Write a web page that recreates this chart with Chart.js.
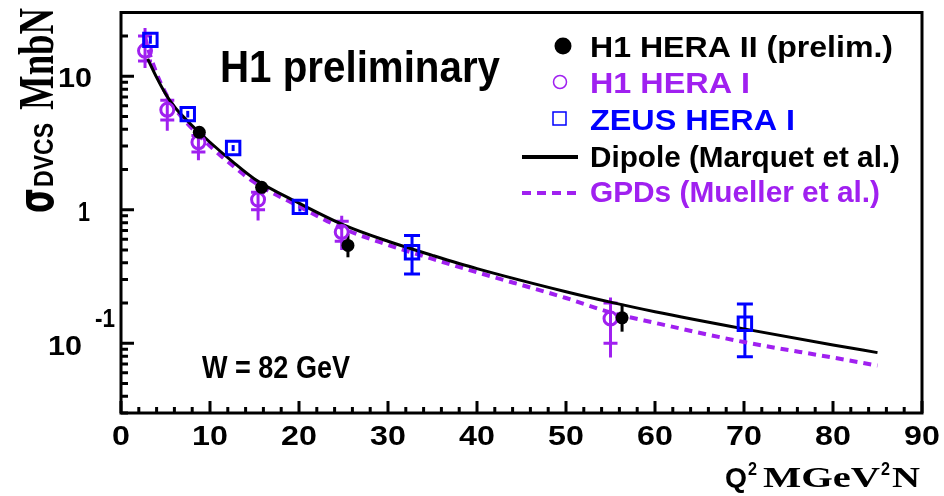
<!DOCTYPE html>
<html>
<head>
<meta charset="utf-8">
<script src="https://cdn.jsdelivr.net/npm/chart.js@4.4.1/dist/chart.umd.min.js"></script>
<style>
  html, body { margin: 0; padding: 0; background: #fff; }
  #wrap { width: 944px; height: 496px; }
</style>
</head>
<body>
<div id="wrap"><canvas id="dvcs" width="944" height="496"></canvas></div>
<script>
// H1 HERA II (prelim.)
const h2Q2 = [8.8, 15.8, 25.5, 56.3];
const h2Sig = [3.8, 1.47, 0.54, 0.155];
const h2Lo = [3.5, 1.36, 0.44, 0.122];
const h2Hi = [4.1, 1.58, 0.66, 0.197];

// H1 HERA I
const h1Q2 = [2.7, 5.2, 8.7, 15.4, 24.8, 55.0];
const h1Sig = [15.5, 5.6, 3.2, 1.19, 0.68, 0.153];
const h1StatLo = [13, 4.7, 2.7, 1.0, 0.58, 0.10];
const h1StatHi = [20, 6.6, 3.6, 1.35, 0.82, 0.20];
const h1TotLo = [11.5, 3.9, 2.35, 0.83, 0.5, 0.078];
const h1TotHi = [23, 7.2, 4.0, 1.45, 0.9, 0.22];

// ZEUS HERA I
const zQ2 = [3.3, 7.5, 12.6, 20.1, 32.7, 70.1];
const zSig = [18.7, 5.2, 2.9, 1.05, 0.48, 0.14];
const zLo = [17.5, 4.9, 2.75, 0.97, 0.33, 0.079];
const zHi = [20.0, 5.5, 3.05, 1.13, 0.64, 0.197];

// Dipole (Marquet et al.)
const dipQ2 = [3, 4, 5, 6, 7.5, 10, 12.5, 15, 20, 25, 30, 35, 40, 50, 55, 60, 70, 80, 85];
const dipSig = [13.5, 9.8, 7.4, 5.9, 4.6, 3.2, 2.3, 1.7, 1.12, 0.77, 0.58, 0.455, 0.362, 0.243, 0.203, 0.172, 0.128, 0.097, 0.085];

// GPDs (Mueller et al.)
const gpdQ2 = [2.7, 3, 4, 5, 6, 7.5, 10, 12.5, 15, 20, 25, 30, 35, 40, 50, 55, 60, 70, 80, 85];
const gpdSig = [20, 16.5, 10.5, 7.5, 5.8, 4.4, 3.0, 2.15, 1.6, 1.06, 0.72, 0.545, 0.428, 0.34, 0.218, 0.17, 0.142, 0.102, 0.078, 0.068];

const xTicks = [0, 10, 20, 30, 40, 50, 60, 70, 80, 90];
const yMajor = [0.1, 1, 10];

const PURPLE = '#a020f0';
const BLUE = '#0000ff';

const pts = (xs, ys) => xs.map((x, i) => ({ x: x, y: ys[i] }));

// texto escalado en horizontal hasta el ancho pedido
function txt(ctx, s, x, base, font, color, w) {
  ctx.save();
  ctx.font = font;
  ctx.fillStyle = color;
  ctx.textAlign = 'left';
  ctx.textBaseline = 'alphabetic';
  const m = ctx.measureText(s).width;
  ctx.translate(x, base);
  ctx.scale(w ? w / m : 1, 1);
  ctx.fillText(s, 0, 0);
  ctx.restore();
}

function txtCenter(ctx, s, cx, base, font, color, k) {
  ctx.save();
  ctx.font = font;
  const m = ctx.measureText(s).width * k;
  ctx.restore();
  txt(ctx, s, cx - m / 2, base, font, color, m);
}

const errorBars = {
  id: 'errorBars',
  beforeDatasetsDraw(chart) {
    const ctx = chart.ctx, xs = chart.scales.x, ys = chart.scales.y;
    ctx.save();
    ctx.lineWidth = 3;
    // H1 HERA II
    ctx.strokeStyle = '#000';
    h2Q2.forEach((q, i) => {
      const px = xs.getPixelForValue(q);
      ctx.beginPath();
      ctx.moveTo(px, ys.getPixelForValue(h2Lo[i]));
      ctx.lineTo(px, ys.getPixelForValue(h2Hi[i]));
      ctx.stroke();
    });
    // H1 HERA I
    ctx.strokeStyle = PURPLE;
    h1Q2.forEach((q, i) => {
      const px = xs.getPixelForValue(q);
      ctx.beginPath();
      ctx.moveTo(px, ys.getPixelForValue(h1TotLo[i]));
      ctx.lineTo(px, ys.getPixelForValue(h1TotHi[i]));
      [h1StatLo[i], h1StatHi[i]].forEach(v => {
        const py = ys.getPixelForValue(v);
        ctx.moveTo(px - 7, py);
        ctx.lineTo(px + 7, py);
      });
      ctx.stroke();
    });
    // ZEUS HERA I
    ctx.strokeStyle = BLUE;
    zQ2.forEach((q, i) => {
      const px = xs.getPixelForValue(q);
      const lo = ys.getPixelForValue(zLo[i]), hi = ys.getPixelForValue(zHi[i]);
      ctx.beginPath();
      ctx.moveTo(px, lo);
      ctx.lineTo(px, hi);
      if (zHi[i] / zLo[i] > 1.3) {
        ctx.moveTo(px - 8, lo); ctx.lineTo(px + 8, lo);
        ctx.moveTo(px - 8, hi); ctx.lineTo(px + 8, hi);
      }
      ctx.stroke();
    });
    ctx.restore();
  }
};

const frame = {
  id: 'frame',
  afterDraw(chart) {
    const ctx = chart.ctx, xs = chart.scales.x, ys = chart.scales.y;
    const a = chart.chartArea;
    ctx.save();
    ctx.strokeStyle = '#000';
    ctx.lineWidth = 3;
    ctx.strokeRect(a.left, a.top, a.right - a.left, a.bottom - a.top);

    // ticks hacia dentro
    ctx.lineWidth = 3;
    ctx.beginPath();
    for (let v = 0; v <= 90; v += 2) {
      const px = xs.getPixelForValue(v);
      const len = v % 10 === 0 ? 12 : 6;
      ctx.moveTo(px, a.bottom);
      ctx.lineTo(px, a.bottom - len);
    }
    [0.01, 0.1, 1, 10].forEach(dec => {
      for (let k = 1; k <= 9; k++) {
        const v = dec * k;
        if (v < ys.min || v > ys.max) continue;
        const py = ys.getPixelForValue(v);
        const len = k === 1 ? 13 : 7;
        ctx.moveTo(a.left, py);
        ctx.lineTo(a.left + len, py);
      }
    });
    ctx.stroke();

    const tickFont = 'bold 28px "Liberation Sans", Arial, sans-serif';
    xTicks.forEach(v => {
      txtCenter(ctx, String(v), xs.getPixelForValue(v), 445, tickFont, '#000', 1.15);
    });
    // etiquetas del eje y
    yMajor.forEach(v => {
      const py = ys.getPixelForValue(v);
      if (v === 10) txt(ctx, '10', 58, py + 11, tickFont, '#000', 34);
      if (v === 1) txt(ctx, '1', 78, py + 11, tickFont, '#000', 12);
      if (v === 0.1) {
        txt(ctx, '10', 48, py + 12, tickFont, '#000', 34);
        txt(ctx, '-1', 95, py - 16, 'bold 26px "Liberation Sans", Arial, sans-serif', '#000', 20);
      }
    });

    // titulo eje y
    ctx.save();
    ctx.translate(53, 213);
    ctx.rotate(-Math.PI / 2);
    txt(ctx, 'σ', 0, 0, 'bold 50px "DejaVu Sans", sans-serif', '#000', 25);
    txt(ctx, 'DVCS', 26, 0, 'bold 28px "Liberation Sans", Arial, sans-serif', '#000', 64);
    txt(ctx, 'MnbN', 103, 0, 'bold 50px "Liberation Serif", serif', '#000', 102);
    ctx.restore();

    // titulo eje x
    txt(ctx, 'Q', 725, 487, 'bold 28px "Liberation Sans", Arial, sans-serif', '#000', 22);
    txt(ctx, '2', 748, 475, 'bold 18px "Liberation Sans", Arial, sans-serif', '#000', 9);
    txt(ctx, 'MGeV', 763, 487, 'bold 30px "Liberation Serif", serif', '#000', 117);
    txt(ctx, '2', 881, 475, 'bold 18px "Liberation Sans", Arial, sans-serif', '#000', 9);
    txt(ctx, 'N', 892, 487, 'bold 30px "Liberation Serif", serif', '#000', 28);

    // textos
    txt(ctx, 'H1 preliminary', 220, 82, 'bold 44px "Liberation Sans", Arial, sans-serif', '#000', 280);
    txt(ctx, 'W = 82 GeV', 202, 378, 'bold 32px "Liberation Sans", Arial, sans-serif', '#000', 148);

    // leyenda
    const lf = 'bold 30px "Liberation Sans", Arial, sans-serif';
    ctx.fillStyle = '#000';
    ctx.beginPath(); ctx.arc(563, 46, 8.5, 0, Math.PI * 2); ctx.fill();
    txt(ctx, 'H1 HERA II (prelim.)', 590, 57, lf, '#000', 303);
    ctx.strokeStyle = PURPLE; ctx.lineWidth = 1.5;
    ctx.beginPath(); ctx.arc(560, 82, 6.5, 0, Math.PI * 2); ctx.stroke();
    txt(ctx, 'H1 HERA I', 590, 93, lf, PURPLE, 160);
    ctx.strokeStyle = BLUE;
    ctx.strokeRect(553, 112, 13, 13);
    txt(ctx, 'ZEUS HERA I', 590, 130, lf, BLUE, 205);
    ctx.strokeStyle = '#000'; ctx.lineWidth = 4;
    ctx.beginPath(); ctx.moveTo(522, 157); ctx.lineTo(578, 157); ctx.stroke();
    txt(ctx, 'Dipole (Marquet et al.)', 590, 167, lf, '#000', 310);
    ctx.strokeStyle = PURPLE; ctx.setLineDash([9, 6]);
    ctx.beginPath(); ctx.moveTo(522, 193); ctx.lineTo(580, 193); ctx.stroke();
    ctx.setLineDash([]);
    txt(ctx, 'GPDs (Mueller et al.)', 590, 202, lf, PURPLE, 290);
    ctx.restore();
  }
};

new Chart(document.getElementById('dvcs'), {
  type: 'scatter',
  data: {
    datasets: [
      {
        label: 'H1 HERA II (prelim.)', data: pts(h2Q2, h2Sig), order: 1,
        pointStyle: 'circle', pointRadius: 6.5, backgroundColor: '#000', borderColor: '#000', borderWidth: 0
      },
      {
        label: 'ZEUS HERA I', data: pts(zQ2, zSig), order: 2,
        pointStyle: 'rect', pointRadius: 9.5, backgroundColor: 'rgba(0,0,0,0)', borderColor: BLUE, borderWidth: 3
      },
      {
        label: 'H1 HERA I', data: pts(h1Q2, h1Sig), order: 3,
        pointStyle: 'circle', pointRadius: 6.5, backgroundColor: 'rgba(0,0,0,0)', borderColor: PURPLE, borderWidth: 3
      },
      {
        label: 'Dipole (Marquet et al.)', data: pts(dipQ2, dipSig), order: 4,
        showLine: true, borderColor: '#000', borderWidth: 3, pointRadius: 0, cubicInterpolationMode: 'monotone'
      },
      {
        label: 'GPDs (Mueller et al.)', data: pts(gpdQ2, gpdSig), order: 5,
        showLine: true, borderColor: PURPLE, borderWidth: 4, borderDash: [8, 6], pointRadius: 0, cubicInterpolationMode: 'monotone'
      }
    ]
  },
  options: {
    responsive: false,
    animation: false,
    devicePixelRatio: 1,
    events: [],
    layout: { padding: { left: 121, right: 22, top: 6, bottom: 83 } },
    plugins: { legend: { display: false }, tooltip: { enabled: false } },
    scales: {
      x: { type: 'linear', min: 0, max: 90, display: false },
      y: { type: 'logarithmic', min: 0.03, max: 30, display: false }
    }
  },
  plugins: [errorBars, frame]
});
</script>
</body>
</html>
